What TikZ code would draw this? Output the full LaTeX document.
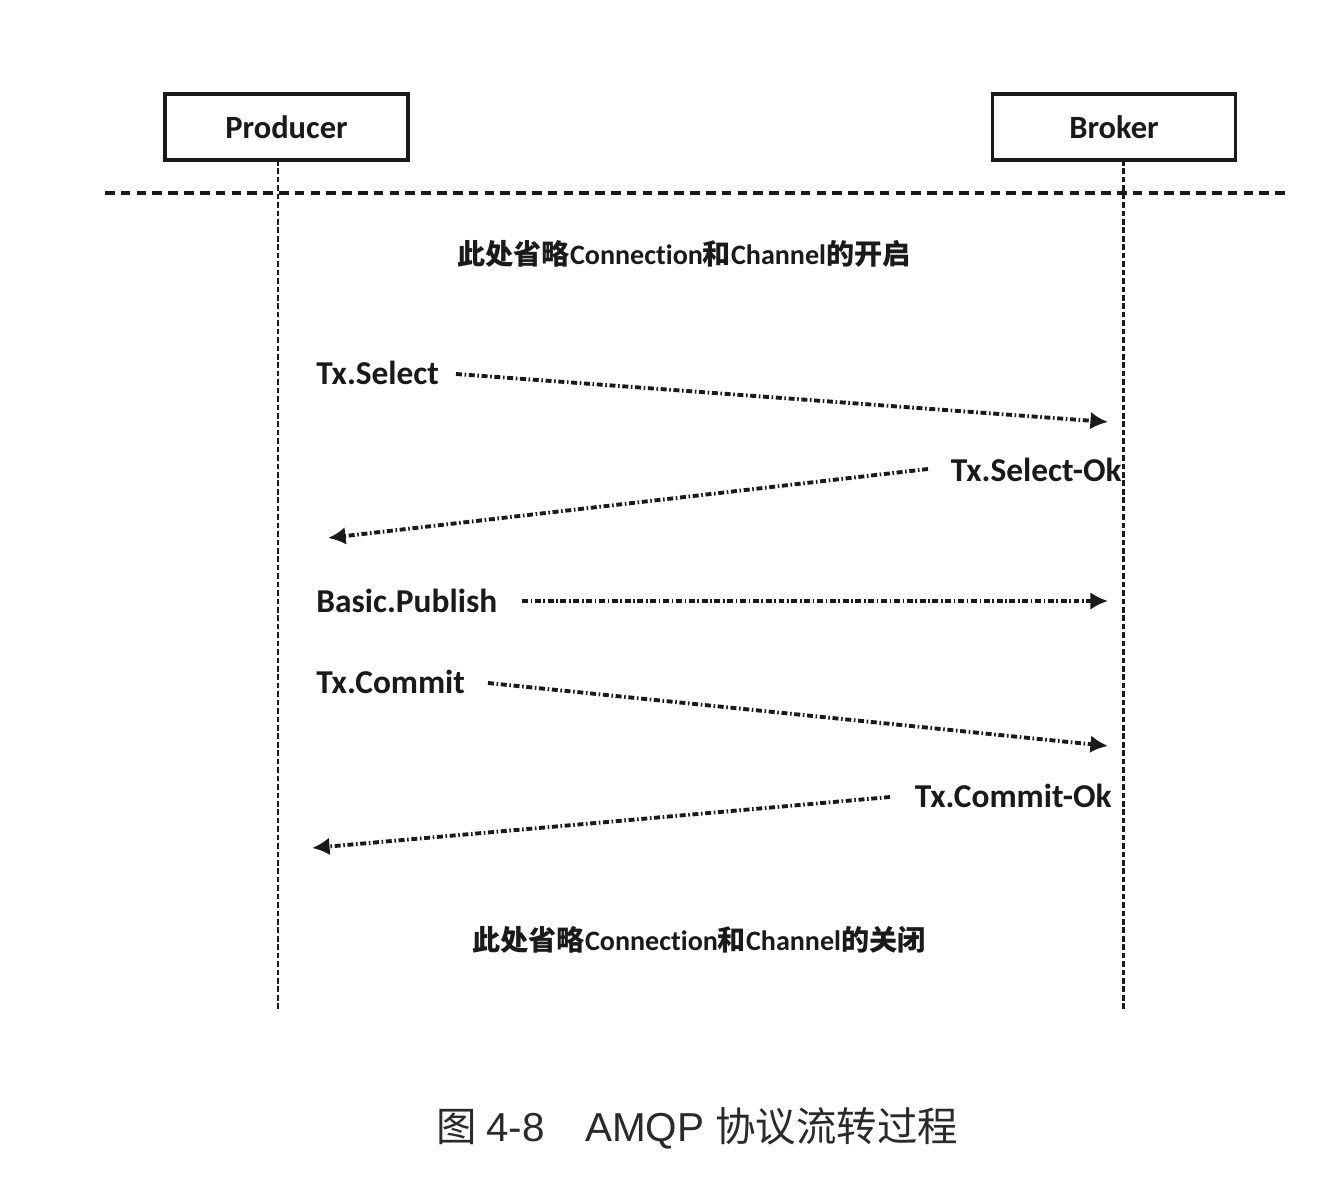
\documentclass[tikz,border=0pt]{standalone}
\usepackage{fontspec}
\setmainfont{Carlito}[Ligatures=NoCommon]
\newfontfamily\cjk{Noto Sans CJK SC}
\newfontfamily\capsans{Liberation Sans}
\usetikzlibrary{arrows.meta}
\definecolor{ink}{HTML}{1A1A1A}
\definecolor{capink}{HTML}{2A2A2A}
\newcommand\connword{Connect\kern0pt ion}
\tikzset{
  actor/.style={draw=ink, line width=2pt, minimum width=243*0.02cm, minimum height=66*0.02cm,
    inner sep=0pt, font=\bfseries\fontsize{18.5}{20}\selectfont, text=ink},
  lifeline/.style={draw=ink, line width=1.7pt, dash pattern=on 3.2pt off 1.6pt},
  divider/.style={draw=ink, line width=2pt, dash pattern=on 5.5pt off 3.5pt},
  msg/.style={draw=ink, line width=2.2pt, dash pattern=on 3.4pt off 1.5pt on 0.9pt off 1.5pt,
    -{Latex[length=10pt,width=10pt]}},
  lbl/.style={inner sep=0pt, font=\bfseries\fontsize{19}{21}\selectfont, text=ink},
  note/.style={inner sep=0pt, font=\bfseries\fontsize{16}{18}\selectfont, text=ink},
}
\begin{document}
\begin{tikzpicture}[x=0.02cm,y=-0.02cm]
\useasboundingbox (0,0) rectangle (1318,1186);
\fill[white] (0,0) rectangle (1318,1186);

% actors
\node[actor] (producer) at (286.5,127) {Producer};
\node[actor] (broker) at (1114,127) {Broker};

% lifelines
\coordinate (pTop) at (278,160);
\coordinate (pBot) at (278,1010);
\coordinate (bTop) at (1123,160);
\coordinate (bBot) at (1123,1010);
\draw[lifeline] (pTop) -- (pBot);
\draw[lifeline] (bTop) -- (bBot);

% divider
\coordinate (dL) at (105,193);
\coordinate (dR) at (1290,193);
\draw[divider] (dL) -- (dR);

% notes
\node[note, anchor=base] (open) at (684,264) {{\cjk 此处省略}\connword{\cjk 和}Channel{\cjk 的开启}};
\node[note, anchor=base] (close) at (699,950) {{\cjk 此处省略}\connword{\cjk 和}Channel{\cjk 的关闭}};

% labels
\node[lbl, anchor=base west] (lSel) at (316,384) {Tx.Select};
\node[lbl, anchor=base east] (lSelOk) at (1122,481) {Tx.Select-Ok};
\node[lbl, anchor=base west] (lPub) at (316,612) {Basic.Publish};
\node[lbl, anchor=base west] (lCom) at (316,693) {Tx.Commit};
\node[lbl, anchor=base east] (lComOk) at (1112,807) {Tx.Commit-Ok};

% message endpoints
\coordinate (s1) at (456,374);  \coordinate (e1) at (1108,422);
\coordinate (s2) at (928,469);  \coordinate (e2) at (328,538);
\coordinate (s3) at (522,601);  \coordinate (e3) at (1108,601);
\coordinate (s4) at (488,683);  \coordinate (e4) at (1108,746);
\coordinate (s5) at (890,797);  \coordinate (e5) at (312,848);
\draw[msg] (s1) -- (e1);
\draw[msg] (s2) -- (e2);
\draw[msg] (s3) -- (e3);
\draw[msg] (s4) -- (e4);
\draw[msg] (s5) -- (e5);

% caption
\node[inner sep=0pt, text=capink, font=\capsans\fontsize{23}{25}\selectfont] (caption) at (697,1128)
  {{\cjk 图}\hspace{0.25em}4-8\hspace{1em}AMQP {\cjk 协议流转过程}};
\end{tikzpicture}
\end{document}
